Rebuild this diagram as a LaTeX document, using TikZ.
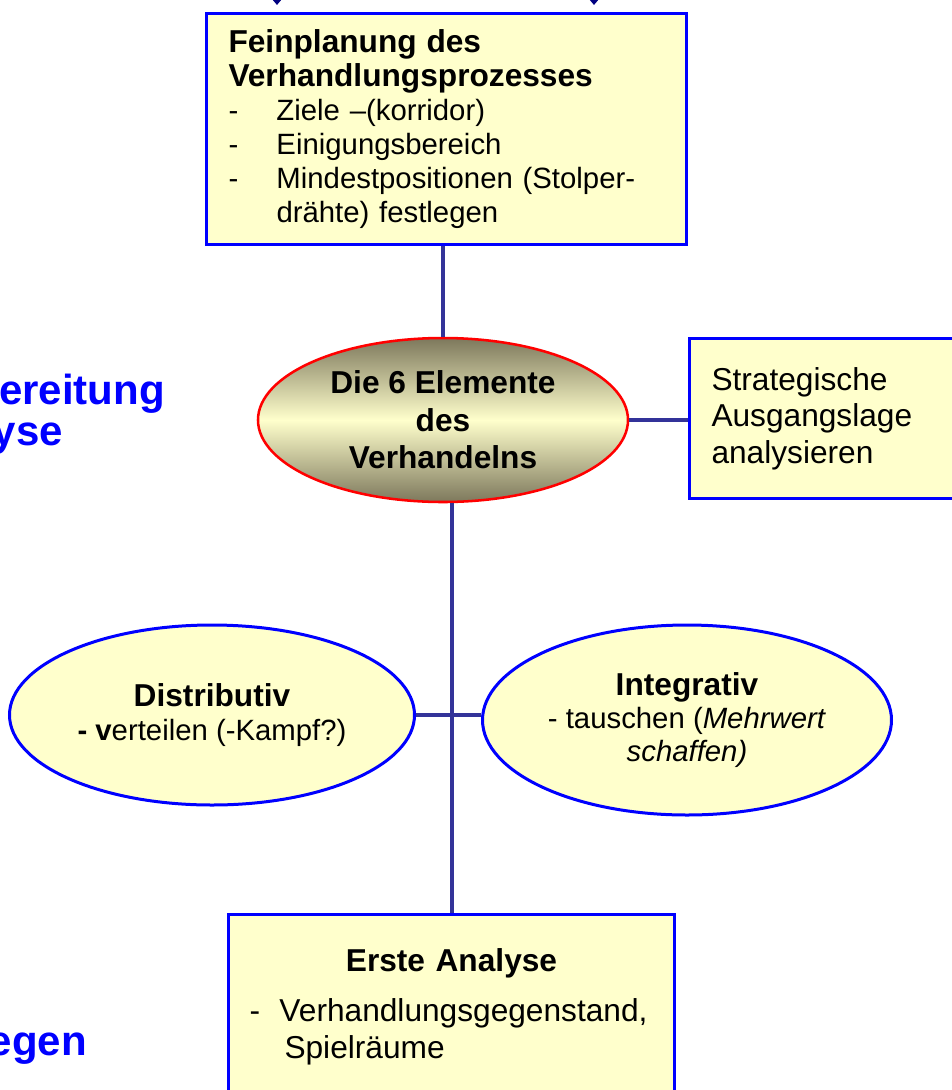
\documentclass[tikz,border=0pt]{standalone}
\usepackage{fontspec}
\setmainfont{Liberation Sans}
\usetikzlibrary{shapes.geometric,arrows.meta}
\definecolor{paleyellow}{HTML}{FFFFCC}
\definecolor{linkblue}{HTML}{333399}
\definecolor{olivegray}{HTML}{7D785C}
\definecolor{tipblue}{HTML}{000080}

\begin{document}
\begin{tikzpicture}[x=0.75pt,y=-0.75pt,
  yellowbox/.style={rectangle,draw=blue,line width=2.25pt,fill=paleyellow,anchor=north west,inner ysep=0pt,align=left},
  yellowoval/.style={ellipse,draw=blue,line width=2.25pt,fill=paleyellow,inner sep=0pt,align=center,font=\fontsize{22}{25.5}\selectfont},
  link/.style={draw=linkblue,line width=3pt},
  tiparrow/.style={draw=tipblue,line width=1pt,-{Triangle[width=6pt,length=3.75pt]}},
  bluehead/.style={text=blue,font=\fontsize{31.5}{33}\selectfont\bfseries,anchor=base east,inner sep=0pt}]
\clip (0,0) rectangle (952,1090);
\coordinate (inA) at (277,-30);
\coordinate (outA) at (277,5);
\coordinate (inB) at (594,-30);
\coordinate (outB) at (594,5);
\draw[tiparrow] (inA) -- (outA);
\draw[tiparrow] (inB) -- (outB);
\node[bluehead] (vorb) at (165,404) {ereitung};
\node[bluehead] (anal) at (63,445) {yse};
\node[bluehead] (fest) at (87,1055) {egen};
\node[yellowbox,minimum width=360pt,minimum height=173.25pt,inner xsep=16.5pt,text width=327pt,
  font=\fontsize{22}{25.6}\selectfont] (fein) at (205,12)
  {{\fontsize{23.75}{25.6}\selectfont\bfseries Feinplanung des}\\
   {\fontsize{23.75}{25.6}\selectfont\bfseries Verhandlungsprozesses}\\
   \makebox[36pt][l]{-}Ziele –(korridor)\\
   \makebox[36pt][l]{-}Einigungsbereich\\
   \makebox[36pt][l]{-}Mindestpositionen (Stolper-\\
   \hspace*{36pt}drähte) festlegen};
\node[ellipse,draw=red,line width=1.9pt,top color=olivegray,bottom color=olivegray,middle color=paleyellow,
  minimum width=277.5pt,minimum height=123pt,inner sep=0pt,align=center,
  font=\fontsize{23.75}{28.1}\selectfont\bfseries] (kern) at (443,420)
  {Die 6 Elemente\\des\\Verhandelns};
\node[yellowbox,minimum width=225pt,minimum height=120pt,inner xsep=16.5pt,text width=192pt,
  font=\fontsize{23.75}{27.5}\selectfont] (strat) at (688,337)
  {Strategische\\Ausgangslage\\analysieren};
\node[yellowoval,minimum width=303.75pt,minimum height=135pt] (distr) at (212,715)
  {{\fontsize{23.75}{25.5}\selectfont\bfseries Distributiv}\\
   \textbf{- v}erteilen (-Kampf?)};
\node[yellowoval,minimum width=306.75pt,minimum height=142.5pt,font=\fontsize{22}{24.75}\selectfont] (integ) at (687,720)
  {{\fontsize{23.75}{24.75}\selectfont\bfseries Integrativ}\\
   - tauschen (\textit{Mehrwert}\\
   \textit{schaffen)}};
\node[yellowbox,minimum width=334.5pt,minimum height=138.75pt,inner xsep=15.75pt,text width=303pt,
  font=\fontsize{23.75}{27.75}\selectfont] (analyse) at (227,913)
  {\hbox to \hsize{\hss\bfseries Erste Analyse\hss}\\[9.75pt]
   \mbox{\makebox[22.5pt][l]{-}Verhandlungsgegenstand,}\\
   \hspace*{26.25pt}Spielräume};
\draw[link] (fein.south -| kern.north) -- (kern.north);
\draw[link] (kern.east) -- (kern.east -| strat.west);
\draw[link] (analyse.north) -- (analyse.north |- kern.south);
\draw[link] (distr.east) -- (distr.east -| integ.west);
\end{tikzpicture}
\end{document}
